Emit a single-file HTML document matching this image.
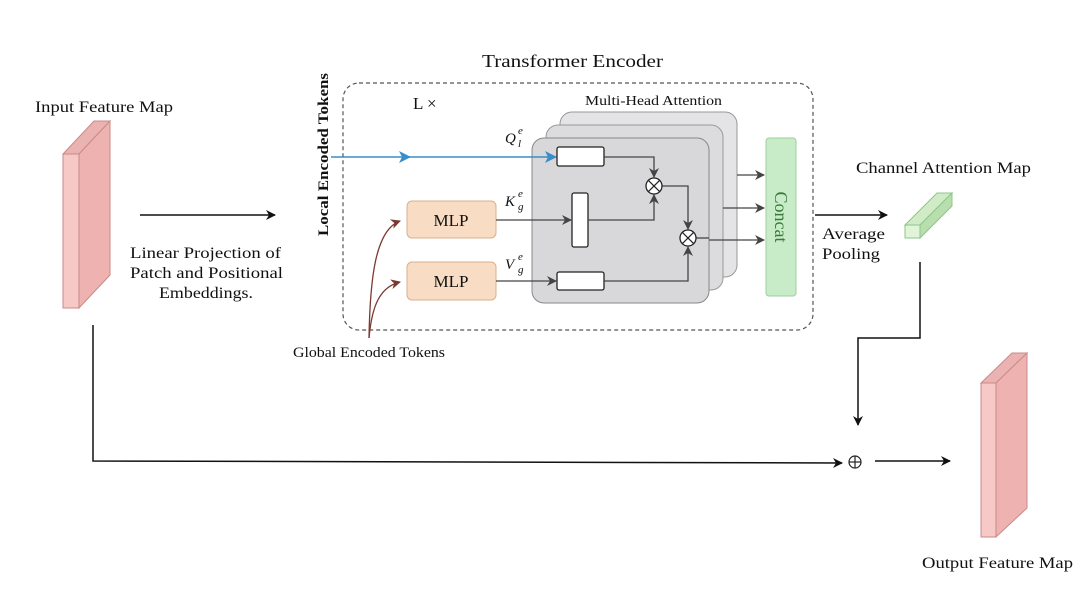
<!DOCTYPE html>
<html><head><meta charset="utf-8"><style>
html,body{margin:0;padding:0;background:#fff}
svg{display:block}
text{font-family:"Liberation Serif",serif;fill:#111}
</style></head><body>
<svg width="1092" height="590" viewBox="0 0 1092 590" xmlns="http://www.w3.org/2000/svg">
<defs>
<marker id="ak" markerWidth="10" markerHeight="10" refX="9" refY="5" orient="auto" markerUnits="userSpaceOnUse"><path d="M0,0 L10,5 L0,10 L3,5 Z" fill="#111"/></marker>
<marker id="ag" markerWidth="10" markerHeight="10" refX="9" refY="5" orient="auto" markerUnits="userSpaceOnUse"><path d="M0,0 L10,5 L0,10 L3,5 Z" fill="#444"/></marker>
<marker id="ab" markerWidth="12" markerHeight="12" refX="11" refY="6" orient="auto" markerUnits="userSpaceOnUse"><path d="M0,0 L12,6 L0,12 L3,6 Z" fill="#3a8ec8"/></marker>
<marker id="ar" markerWidth="10" markerHeight="10" refX="9" refY="5" orient="auto" markerUnits="userSpaceOnUse"><path d="M0,0 L10,5 L0,10 L3,5 Z" fill="#7a3a30"/></marker>
</defs>

<!-- Input feature map -->
<polygon points="63,154 79,154 110,121 94,121" fill="#eab3b1" stroke="#c98a88"/>
<polygon points="79,154 110,121 110,275 79,308" fill="#eeb3b1" stroke="#c98a88"/>
<rect x="63" y="154" width="16" height="154" fill="#f6c8c6" stroke="#c98a88"/>
<text x="35" y="112" font-size="16" textLength="138" lengthAdjust="spacingAndGlyphs">Input Feature Map</text>

<line x1="140" y1="215" x2="275" y2="215" stroke="#111" stroke-width="1.5" marker-end="url(#ak)"/>
<text x="130" y="258" font-size="16" textLength="151" lengthAdjust="spacingAndGlyphs">Linear Projection of</text>
<text x="130" y="278" font-size="16" textLength="153" lengthAdjust="spacingAndGlyphs">Patch and Positional</text>
<text x="159" y="298" font-size="16" textLength="94" lengthAdjust="spacingAndGlyphs">Embeddings.</text>

<text x="482" y="67" font-size="18" textLength="181" lengthAdjust="spacingAndGlyphs">Transformer Encoder</text>
<text transform="translate(328,236) rotate(-90)" font-size="15" font-weight="bold" textLength="163" lengthAdjust="spacingAndGlyphs">Local Encoded Tokens</text>

<rect x="343" y="83" width="470" height="247" rx="16" fill="none" stroke="#555" stroke-width="1.2" stroke-dasharray="4,3"/>
<text x="413" y="109" font-size="17">L ×</text>
<text x="585" y="105" font-size="14" textLength="137" lengthAdjust="spacingAndGlyphs">Multi-Head Attention</text>

<!-- stacked cards -->
<rect x="560" y="112" width="177" height="165" rx="12" fill="#e4e4e6" stroke="#999"/>
<rect x="546" y="125" width="177" height="165" rx="12" fill="#dcdcde" stroke="#999"/>
<rect x="532" y="138" width="177" height="165" rx="12" fill="#d8d8da" stroke="#888"/>

<line x1="331" y1="157" x2="410" y2="157" stroke="#3a8ec8" stroke-width="1.5" marker-end="url(#ab)"/>
<line x1="405" y1="157" x2="556" y2="157" stroke="#3a8ec8" stroke-width="1.5" marker-end="url(#ab)"/>

<rect x="557" y="147" width="47" height="19" rx="2" fill="#fff" stroke="#222" stroke-width="1.3"/>
<rect x="572" y="193" width="16" height="54" rx="2" fill="#fff" stroke="#222" stroke-width="1.3"/>
<rect x="557" y="272" width="47" height="18" rx="2" fill="#fff" stroke="#222" stroke-width="1.3"/>

<rect x="407" y="201" width="89" height="37" rx="5" fill="#f8dcc3" stroke="#d9b08e"/>
<text x="451" y="226" font-size="17" text-anchor="middle">MLP</text>
<rect x="407" y="262" width="89" height="38" rx="5" fill="#f8dcc3" stroke="#d9b08e"/>
<text x="451" y="287" font-size="17" text-anchor="middle">MLP</text>

<text x="505" y="143" font-size="15" font-style="italic">Q</text><text x="518" y="134" font-size="11" font-style="italic">e</text><text x="518" y="147" font-size="11" font-style="italic">l</text>
<text x="505" y="206" font-size="15" font-style="italic">K</text><text x="518" y="197" font-size="11" font-style="italic">e</text><text x="518" y="210" font-size="11" font-style="italic">g</text>
<text x="505" y="269" font-size="15" font-style="italic">V</text><text x="518" y="260" font-size="11" font-style="italic">e</text><text x="518" y="273" font-size="11" font-style="italic">g</text>

<g stroke="#444" stroke-width="1.3" fill="none">
<line x1="496" y1="220" x2="571" y2="220" marker-end="url(#ag)"/>
<line x1="496" y1="281" x2="556" y2="281" marker-end="url(#ag)"/>
<polyline points="604,157 654,157 654,177" marker-end="url(#ag)"/>
<polyline points="588,220 654,220 654,195" marker-end="url(#ag)"/>
<polyline points="662,186 688,186 688,229" marker-end="url(#ag)"/>
<polyline points="604,281 688,281 688,247" marker-end="url(#ag)"/>
<line x1="696" y1="238" x2="709" y2="238"/>
<line x1="737" y1="175" x2="764" y2="175" marker-end="url(#ag)"/>
<line x1="723" y1="208" x2="764" y2="208" marker-end="url(#ag)"/>
<line x1="709" y1="240" x2="764" y2="240" marker-end="url(#ag)"/>
</g>
<g stroke="#222" stroke-width="1.3" fill="#fff">
<circle cx="654" cy="186" r="8"/><circle cx="688" cy="238" r="8"/>
</g>
<g stroke="#222" stroke-width="1.2">
<line x1="648.3" y1="180.3" x2="659.7" y2="191.7"/><line x1="659.7" y1="180.3" x2="648.3" y2="191.7"/>
<line x1="682.3" y1="232.3" x2="693.7" y2="243.7"/><line x1="693.7" y1="232.3" x2="682.3" y2="243.7"/>
</g>

<rect x="766" y="138" width="30" height="158" rx="3" fill="#c8ecc8" stroke="#9ccf9c"/>
<text transform="translate(775,217) rotate(90)" font-size="18" text-anchor="middle" style="fill:#3a7a3a">Concat</text>

<g stroke="#7a3a30" stroke-width="1.3" fill="none">
<path d="M369,338 C370,280 375,230 400,221" marker-end="url(#ar)"/>
<path d="M369,338 C372,305 380,287 400,282" marker-end="url(#ar)"/>
</g>
<text x="293" y="357" font-size="15" textLength="152" lengthAdjust="spacingAndGlyphs">Global Encoded Tokens</text>

<line x1="815" y1="215" x2="887" y2="215" stroke="#111" stroke-width="1.5" marker-end="url(#ak)"/>
<text x="822" y="239" font-size="16" textLength="63" lengthAdjust="spacingAndGlyphs">Average</text>
<text x="822" y="259" font-size="16" textLength="58" lengthAdjust="spacingAndGlyphs">Pooling</text>
<text x="856" y="173" font-size="16" textLength="175" lengthAdjust="spacingAndGlyphs">Channel Attention Map</text>

<polygon points="905,225 920,225 952,193 937,193" fill="#d0ecc6" stroke="#8fc48a"/>
<polygon points="920,225 952,193 952,206 920,238" fill="#b8deae" stroke="#8fc48a"/>
<rect x="905" y="225" width="15" height="13" fill="#e0f4da" stroke="#8fc48a"/>

<polyline points="920,262 920,338 858,338 858,425" fill="none" stroke="#111" stroke-width="1.5" marker-end="url(#ak)"/>
<circle cx="855" cy="462" r="6" fill="none" stroke="#222" stroke-width="1.2"/>
<line x1="849" y1="462" x2="861" y2="462" stroke="#222" stroke-width="1.2"/>
<line x1="855" y1="456" x2="855" y2="468" stroke="#222" stroke-width="1.2"/>
<line x1="875" y1="461" x2="950" y2="461" stroke="#111" stroke-width="1.5" marker-end="url(#ak)"/>
<polyline points="93,325 93,461 842,463" fill="none" stroke="#111" stroke-width="1.5" marker-end="url(#ak)"/>

<polygon points="981,383 996,383 1027,353 1012,353" fill="#eab3b1" stroke="#c98a88"/>
<polygon points="996,383 1027,353 1027,508 996,537" fill="#eeb3b1" stroke="#c98a88"/>
<rect x="981" y="383" width="15" height="154" fill="#f6c8c6" stroke="#c98a88"/>
<text x="922" y="568" font-size="16" textLength="151" lengthAdjust="spacingAndGlyphs">Output Feature Map</text>
</svg>
</body></html>
